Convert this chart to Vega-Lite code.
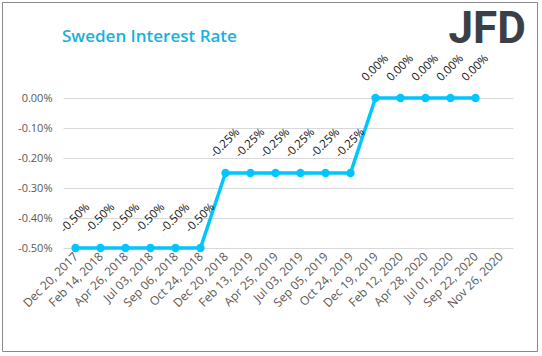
{
  "$schema": "https://vega.github.io/schema/vega-lite/v6.json",
  "width": 535,
  "height": 349,
  "autosize": {"type": "none"},
  "padding": {"left": 2, "top": 2, "right": 5, "bottom": 5},
  "background": "white",
  "config": {
    "view": {"stroke": "#8a8a8a", "strokeWidth": 1},
    "locale": {"number": {"decimal": ".", "thousands": ",", "grouping": [3], "currency": ["$", ""], "minus": "-"}},
    "font": "Open Sans"
  },
  "title": {
    "text": "Sweden Interest Rate",
    "anchor": "start",
    "frame": "group",
    "orient": "top",
    "offset": 0,
    "baseline": "middle",
    "dx": 60,
    "dy": 52,
    "font": "Open Sans",
    "fontSize": 17,
    "fontWeight": 600,
    "color": "#17b1e0"
  },
  "data": {
    "values": [
      {"date": "Dec 20, 2017", "rate": -0.005},
      {"date": "Feb 14, 2018", "rate": -0.005},
      {"date": "Apr 26, 2018", "rate": -0.005},
      {"date": "Jul 03, 2018", "rate": -0.005},
      {"date": "Sep 06, 2018", "rate": -0.005},
      {"date": "Oct 24, 2018", "rate": -0.005},
      {"date": "Dec 20, 2018", "rate": -0.0025},
      {"date": "Feb 13, 2019", "rate": -0.0025},
      {"date": "Apr 25, 2019", "rate": -0.0025},
      {"date": "Jul 03, 2019", "rate": -0.0025},
      {"date": "Sep 05, 2019", "rate": -0.0025},
      {"date": "Oct 24, 2019", "rate": -0.0025},
      {"date": "Dec 19, 2019", "rate": 0},
      {"date": "Feb 12, 2020", "rate": 0},
      {"date": "Apr 28, 2020", "rate": 0},
      {"date": "Jul 01, 2020", "rate": 0},
      {"date": "Sep 22, 2020", "rate": 0}
    ]
  },
  "encoding": {
    "x": {
      "field": "date",
      "type": "ordinal",
      "sort": null,
      "scale": {
        "type": "point",
        "domain": ["Dec 20, 2017", "Feb 14, 2018", "Apr 26, 2018", "Jul 03, 2018", "Sep 06, 2018", "Oct 24, 2018", "Dec 20, 2018", "Feb 13, 2019", "Apr 25, 2019", "Jul 03, 2019", "Sep 05, 2019", "Oct 24, 2019", "Dec 19, 2019", "Feb 12, 2020", "Apr 28, 2020", "Jul 01, 2020", "Sep 22, 2020", "Nov 26, 2020"],
        "range": [61, 511],
        "padding": 0.5
      },
      "axis": {
        "title": null,
        "orient": "bottom",
        "offset": -103,
        "domain": false,
        "ticks": false,
        "grid": false,
        "labelAngle": -45,
        "labelAlign": "right",
        "labelBaseline": "middle",
        "labelPadding": 6,
        "labelFont": "Open Sans",
        "labelFontSize": 12,
        "labelColor": "#595959"
      }
    },
    "y": {
      "field": "rate",
      "type": "quantitative",
      "scale": {"domain": [-0.005, 0], "range": [246, 96], "nice": false, "zero": false},
      "axis": {
        "orient": "left",
        "offset": -61,
        "values": [-0.005, -0.004, -0.003, -0.002, -0.001, 0],
        "format": ".2%",
        "domain": false,
        "ticks": false,
        "grid": true,
        "gridColor": "#d9d9d9",
        "gridWidth": 1,
        "labelPadding": 11,
        "labelFont": "Open Sans",
        "labelFontSize": 11,
        "labelColor": "#595959",
        "title": "JFD",
        "titleAngle": 0,
        "titleAlign": "left",
        "titleBaseline": "alphabetic",
        "titleX": 385,
        "titleY": 40,
        "titleFont": "Roboto",
        "titleFontSize": 44,
        "titleFontWeight": "bold",
        "titleColor": "#3b4047"
      }
    }
  },
  "layer": [
    {"mark": {"type": "line", "color": "#00c6ff", "strokeWidth": 3.5}},
    {"mark": {"type": "point", "filled": true, "color": "#00c6ff", "size": 70, "opacity": 1}},
    {
      "mark": {"type": "text", "angle": 315, "align": "center", "baseline": "middle", "dx": 21, "dy": -21, "font": "Open Sans", "fontSize": 11.5, "color": "#111111"},
      "encoding": {"text": {"field": "rate", "type": "quantitative", "format": ".2%"}}
    }
  ]
}
